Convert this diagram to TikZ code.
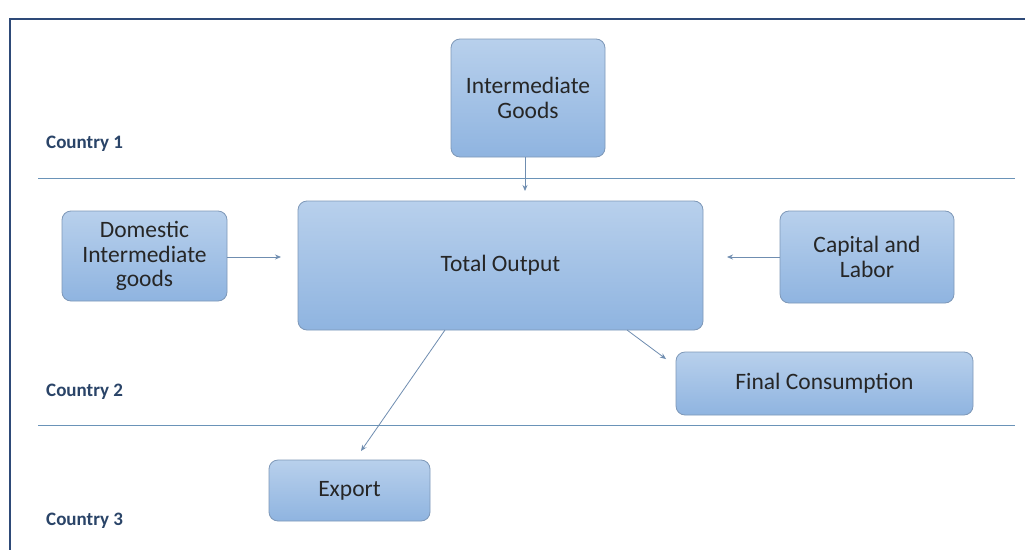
\documentclass[tikz,border=0pt]{standalone}
\usepackage{fontspec}
\setmainfont{Carlito}
\usetikzlibrary{arrows.meta}
\definecolor{frame}{HTML}{2E4A78}
\definecolor{sep}{HTML}{6A93B8}
\definecolor{boxtop}{HTML}{B8D0EC}
\definecolor{boxbot}{HTML}{8FB4E0}
\definecolor{boxline}{HTML}{7E98B8}
\definecolor{arr}{HTML}{6F8DB0}
\definecolor{ctry}{HTML}{2A4468}
\definecolor{txt}{HTML}{262626}
\tikzset{
  bx/.style={draw=boxline, line width=0.8pt, rounded corners=9pt, top color=boxtop, bottom color=boxbot,
    align=center, font=\fontsize{23.5}{24.5}\selectfont, text=txt, inner sep=0pt},
  ctrylabel/.style={anchor=west, font=\fontsize{19}{21}\selectfont\bfseries, text=ctry, inner sep=0pt},
  conn/.style={draw=arr, line width=0.8pt, -{Stealth[length=6pt,width=5pt]}},
  sepline/.style={draw=sep, line width=0.9pt}
}
\begin{document}
\begin{tikzpicture}[x=1pt,y=-1pt]
\useasboundingbox (0,0) rectangle (1025,549);
\fill[white] (0,0) rectangle (1025,549);
% frame
\draw[frame, line width=2pt] (10,560) -- (10,19) -- (1040,19);
% separators
\coordinate (s1a) at (38,178); \coordinate (s1b) at (1015,178);
\coordinate (s2a) at (38,425); \coordinate (s2b) at (1015,425);
\draw[sepline] (s1a) -- (s1b);
\draw[sepline] (s2a) -- (s2b);
% labels
\node[ctrylabel] (c1) at (46,144) {Country 1};
\node[ctrylabel] (c2) at (46,392) {Country 2};
\node[ctrylabel] (c3) at (46,521) {Country 3};
% boxes
\node[bx, minimum width=154pt, minimum height=118pt] (ig) at (528,98) {Intermediate\\Goods};
\node[bx, minimum width=405pt, minimum height=129pt] (to) at (500.5,265.5) {Total Output};
\node[bx, minimum width=165pt, minimum height=90pt] (dig) at (144.5,256) {Domestic\\Intermediate\\goods};
\node[bx, minimum width=174pt, minimum height=92pt] (cl) at (867,257) {Capital and\\Labor};
\node[bx, minimum width=297pt, minimum height=63pt] (fc) at (824.5,383.5) {Final Consumption};
\node[bx, minimum width=161pt, minimum height=61pt] (ex) at (349.5,490.5) {Export};
% arrow coordinates
\coordinate (a1) at (525,191);
\coordinate (a2s) at (227,257); \coordinate (a2e) at (281,257);
\coordinate (a3s) at (780,257); \coordinate (a3e) at (727,257);
\coordinate (a4s) at (445,330); \coordinate (a4e) at (361,451);
\coordinate (a5s) at (627,330); \coordinate (a5e) at (666,359);
\draw[conn] (ig.south -| a1) -- (a1);
\draw[conn] (dig.east |- a2s) -- (a2e);
\draw[conn] (cl.west |- a3s) -- (a3e);
\draw[conn] (a4s) -- (a4e);
\draw[conn] (a5s) -- (a5e);
\end{tikzpicture}
\end{document}
